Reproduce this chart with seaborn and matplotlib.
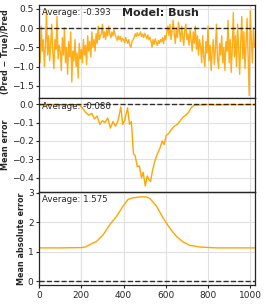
import numpy as np
import pandas as pd
import matplotlib
matplotlib.use("Agg")
import matplotlib.pyplot as plt
import seaborn as sns

# --- data ---
model_name = "Bush"

# relative error, one value every 5 samples (0..1020)
rel_err = [
    -0.45, -0.9, 0.05, -0.6, -0.3, -1.0, -0.5, 0.45, -0.7, -0.2, -0.85, -0.4, 0.1, -0.65, -1.05, -0.3, -0.55, 0.3, -0.8, -0.45,
    -0.6, -1.1, -0.25, -0.7, 0.0, -0.9, -0.5, -1.2, -0.35, -0.75, -0.1, -1.4, -0.6, -0.85, -0.3, -1.0, -0.65, -1.3, -0.4, -0.8,
    -0.55,
    -0.9, -0.3, -0.7, -0.45, -0.95, -0.2, -0.6, -0.35, -0.75, -0.1, -0.5, -0.3, -0.6, -0.15, -0.4, 0.05, -0.3, -0.2,
    -0.15, 0.1, -0.25, -0.1, -0.3, -0.05, -0.2, 0.05, -0.15, -0.25, -0.1, -0.2, -0.05, -0.18,
    -0.25, -0.32, -0.2, -0.3, -0.22, -0.35, -0.27, -0.3, -0.38, -0.25, -0.33, -0.4, -0.3, -0.45, -0.5, -0.35, -0.3,
    -0.25, -0.15, -0.22, -0.12, -0.2, -0.18, -0.1, -0.22, -0.16, -0.25, -0.14, -0.2, -0.28, -0.18, -0.3, -0.24,
    -0.35, -0.5, -0.3, -0.42, -0.28, -0.38, -0.45, -0.32, -0.4, -0.3, -0.36, -0.25, -0.4, -0.2, -0.3, -0.1,
    0.05, -0.2, 0.1, -0.3, -0.05, 0.2, -0.15, -0.4, 0.0, -0.25, 0.15, -0.1, -0.35, 0.05, -0.2, -0.45, -0.05, 0.1, -0.3,
    -0.15, -0.45, -0.05, -0.3, -0.6, -0.1, -0.4, 0.05, -0.55, -0.2, -0.7, -0.3,
    -0.5, -0.9, -0.2, -0.75, -1.0, -0.35, -0.65, 0.05, -0.85, -0.45, -1.1, -0.6, -0.3, -0.95, -0.55, 0.1, -0.8, -1.05, -0.4, -0.7, -0.2, -0.9, -0.5, -1.1, -0.35,
    -0.6, 0.2, -0.9, -0.3, -1.15, -0.5, 0.4, -0.75, -0.2, -1.0, 0.1, -0.55, -1.2, -0.35, 0.3, -0.8, -0.1, -1.05, -0.45, 0.25, -0.7, -1.75, 0.45, -0.3, -0.9, 0.0, -0.5,
]
rel_idx = np.arange(0, 5 * len(rel_err), 5)

me_idx = [0, 40, 80, 120, 160, 190, 205, 220, 235, 250, 262, 275, 288, 300, 312, 325, 338, 350, 362, 375,
          387, 396, 405, 419, 428, 437, 447, 455, 465, 475, 485, 493, 503, 512, 520, 528, 537, 548, 560, 572,
          583, 592, 602, 613, 625, 640, 655, 668, 682, 695, 707, 720, 735, 760, 800, 850, 900, 950, 1000, 1023]
me_val = [-0.003, -0.004, -0.002, -0.005, -0.003, -0.004, -0.02, -0.045, -0.06, -0.05, -0.08, -0.065, -0.11, -0.09,
          -0.10, -0.075, -0.13, -0.095, -0.12, -0.085, -0.015, -0.11, -0.09, -0.02, -0.11, -0.095, -0.27, -0.28,
          -0.34, -0.335, -0.40, -0.37, -0.445, -0.39, -0.41, -0.42, -0.36, -0.31, -0.27, -0.24, -0.20, -0.22,
          -0.17, -0.16, -0.14, -0.12, -0.11, -0.09, -0.07, -0.06, -0.045, -0.02, -0.005, -0.004, -0.002, -0.004,
          -0.002, -0.003, -0.002, -0.003]

mae_idx = [0, 100, 200, 220, 240, 272, 304, 335, 367, 398, 422, 446, 477, 509, 524, 556, 587, 619, 650, 682,
           713, 760, 840, 920, 1023]
mae_val = [1.13, 1.13, 1.14, 1.16, 1.24, 1.35, 1.58, 1.92, 2.2, 2.55, 2.78, 2.83, 2.86, 2.86, 2.81, 2.55, 2.15,
           1.8, 1.52, 1.33, 1.22, 1.16, 1.13, 1.13, 1.13]

averages = ["-0.393", "-0.080", "1.575"]
ylabels = ["(Pred \u2212 True)/Pred", "Mean error", "Mean absolute error"]
ylims = [(-1.82, 0.6), (-0.475, 0.032), (-0.13, 3.04)]

sns.set_style("whitegrid", {"axes.edgecolor": "0.15", "grid.color": "0.88"})
plt.rcParams["font.family"] = ["DejaVu Sans"]

fig, axes = plt.subplots(3, 1, sharex=True, figsize=(2.66, 3.04), dpi=100)
fig.subplots_adjust(left=0.147, right=0.959, top=0.984, bottom=0.0625, hspace=0)

series = [
    pd.DataFrame({"idx": rel_idx, "val": rel_err}),
    pd.DataFrame({"idx": me_idx, "val": me_val}),
    pd.DataFrame({"idx": mae_idx, "val": mae_val}),
]

for i, ax in enumerate(axes):
    df = series[i]
    sns.lineplot(data=df, x="idx", y="val", ax=ax, color="orange",
                 lw=1.0, alpha=0.9 if i == 0 else 1.0)
    ax.axhline(0, color="k", ls="--", lw=1.0, alpha=0.8)
    ax.set_ylim(*ylims[i])
    ax.set_xlim(0, 1023)
    ax.set_ylabel(ylabels[i], fontsize=5.8, fontweight="bold", labelpad=1.5)
    ax.set_xlabel("")
    ax.tick_params(labelsize=6.5, length=2.5, pad=1.5, left=True, bottom=True)
    ax.text(0.015, 0.965, "Average: " + averages[i], transform=ax.transAxes,
            ha="left", va="top", fontsize=6.2)
    for s in ax.spines.values():
        s.set_linewidth(0.9)

axes[0].text(0.56, 0.965, "Model: " + model_name, transform=axes[0].transAxes,
             ha="center", va="top", fontsize=8, fontweight="bold")
axes[0].set_yticks([0.5, 0.0, -0.5, -1.0, -1.5])
axes[1].set_yticks([0.0, -0.1, -0.2, -0.3, -0.4])
axes[2].set_yticks([0, 1, 2, 3])
axes[2].set_xticks([0, 200, 400, 600, 800, 1000])

fig.savefig("out.png", dpi=100)
